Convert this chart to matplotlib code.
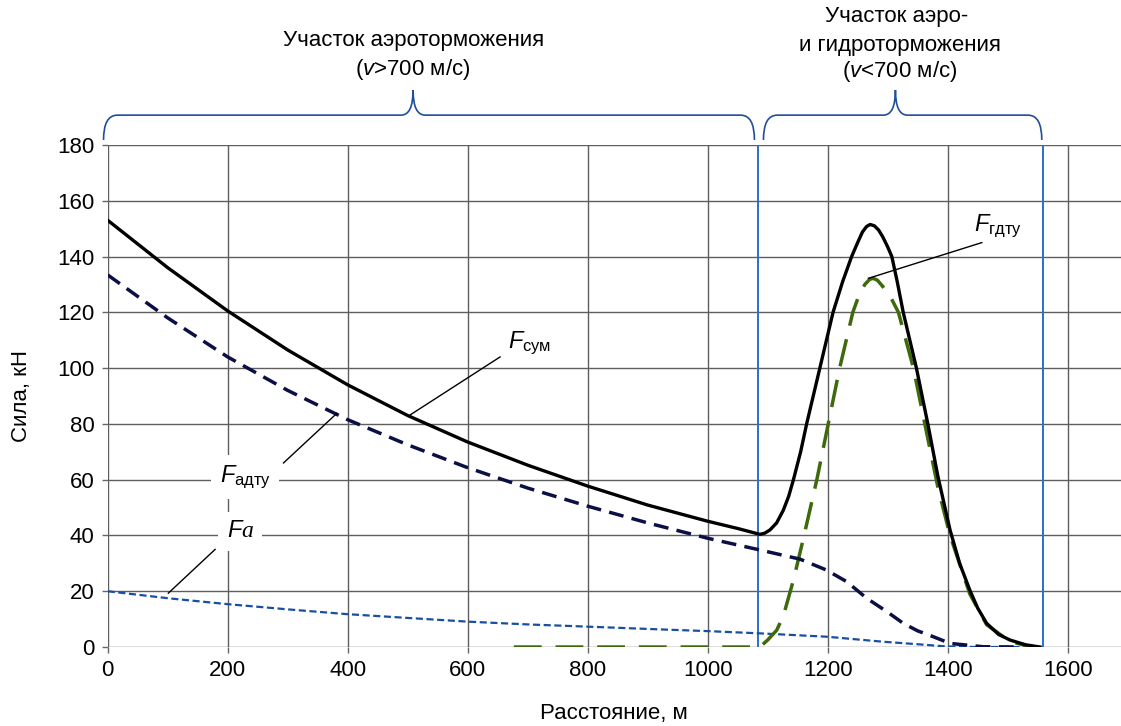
import matplotlib
matplotlib.use('Agg')
import matplotlib.pyplot as plt
from matplotlib.path import Path
from matplotlib.patches import PathPatch

plt.rcParams['font.family'] = ['Liberation Sans', 'DejaVu Sans']
plt.rcParams['mathtext.fontset'] = 'custom'
plt.rcParams['mathtext.rm'] = 'Liberation Sans'
plt.rcParams['mathtext.it'] = 'Liberation Sans:italic'
plt.rcParams['mathtext.sf'] = 'Liberation Serif:italic'

# F_сум (total force), kN vs distance, m
x_sum = [0, 100, 200, 300, 400, 500, 600, 700, 800, 900, 1000, 1050, 1087,
         1095, 1104, 1115, 1126, 1135, 1143, 1155, 1165, 1187, 1209, 1225, 1240, 1250,
         1258, 1265, 1271, 1278, 1285, 1292, 1300, 1307, 1316, 1326, 1348, 1367, 1384,
         1404, 1420, 1437, 1450, 1465, 1485, 1504, 1530, 1554]
y_sum = [153, 136, 120.5, 106.5, 94, 83, 73.5, 65.2, 57.7, 50.9, 45.1, 42.5, 40.4,
         40.8, 42, 44.5, 49, 54, 60, 70, 80, 100, 120, 131, 140, 145,
         148.8, 150.8, 151.5, 151, 149.5, 147, 143.5, 140, 131, 120, 100, 80, 61,
         42, 30, 20.4, 14, 8.5, 4.5, 2.5, 0.8, 0]

# F_адту (aero braking unit)
x_adtu = [0, 100, 200, 300, 400, 500, 600, 700, 800, 900, 1000, 1087, 1154,
          1198, 1232, 1265, 1300, 1326, 1350, 1376, 1404, 1459, 1520]
y_adtu = [133.4, 118, 104, 92, 81.5, 72.5, 64.3, 57, 50.5, 44.5, 39, 34.8, 31.5,
          27.6, 23.4, 17.5, 12.5, 8.5, 5.8, 3.7, 1.3, 0.1, 0]

# F_гдту (hydro braking unit)
x_gdtu = [677, 1087, 1100, 1115, 1126, 1143, 1159, 1182, 1201, 1220, 1242, 1252, 1262,
          1270, 1276, 1283, 1295, 1306, 1318, 1343, 1362, 1384, 1404, 1437, 1465, 1504, 1540]
y_gdtu = [0, 0, 2.5, 6, 11, 24, 38.4, 60, 80, 100, 120, 126, 130,
          131.8, 132.2, 131.5, 128.5, 125, 120, 100, 80, 57, 40, 19, 8, 2, 0]

# F_a (aerodynamic drag)
x_a = [0, 100, 198, 300, 398, 487, 600, 700, 800, 904, 1000, 1087, 1198, 1292, 1350, 1398, 1450, 1550]
y_a = [20, 17.5, 15.4, 13.5, 11.8, 10.6, 9.1, 8.1, 7.3, 6.45, 5.7, 4.9, 3.7, 1.9, 1.0, 0.2, 0, 0]

zone_bounds = [1084, 1559]

fig = plt.figure(figsize=(11.21, 7.26), dpi=100)
ax = fig.add_axes([0.0961, 0.1088, 0.9039, 0.6915])

ax.set_xlim(0, 1689)
ax.set_ylim(0, 180)
ax.set_xticks(range(0, 1601, 200))
ax.set_yticks(range(0, 181, 20))
ax.grid(True, color='#5e5e5e', lw=1.0, zorder=0)
ax.set_axisbelow(True)
for s in ax.spines.values():
    s.set_visible(False)
ax.tick_params(length=4.5, width=1.0, color='#666666', labelsize=16, pad=5)

for xb in zone_bounds:
    ax.plot([xb, xb], [0, 180], color='#2a6fc9', lw=1.4, zorder=2)

ax.plot(x_a, y_a, color='#174ea6', lw=1.6, dashes=(3.2, 1.6), zorder=3)
ax.plot(x_gdtu, y_gdtu, color='#3f6a0c', lw=2.5, dashes=(8, 4), zorder=3)
ax.plot(x_adtu, y_adtu, color='#0c0f45', lw=2.5, dashes=(4.3, 2.4), zorder=4)
ax.plot(x_sum, y_sum, color='black', lw=2.4, zorder=5, solid_joinstyle='round')

# labels with leader lines
box = dict(facecolor='white', edgecolor='none', boxstyle='square,pad=0.35')
ax.plot([504, 654], [83.2, 104], color='black', lw=1.0, zorder=6)
ax.text(704, 109, r'$\mathit{F}_{\mathrm{сум}}$', fontsize=17, ha='center', va='center', zorder=7)

ax.plot([293, 382], [66, 83.8], color='black', lw=1.0, zorder=6)
ax.text(229, 61, r'$\mathit{F}_{\mathrm{адту}}$', fontsize=17, ha='center', va='center',
        bbox=box, zorder=7)

ax.plot([1457, 1268], [145, 132.2], color='black', lw=1.0, zorder=6)
ax.text(1484, 151, r'$\mathit{F}_{\mathrm{гдту}}$', fontsize=17, ha='center', va='center', zorder=7)

ax.plot([179, 101], [35, 19.3], color='black', lw=1.0, zorder=6)
ax.text(221, 41.5, r'$\mathit{F}\mathsf{a}$', fontsize=17, ha='center', va='center',
        bbox=box, zorder=7)


def brace(x0, x1, xt, y_end, y_bar, y_tip, rx=23, rt=20):
    verts = [(x0, y_end), (x0, y_bar), (x0 + rx, y_bar),
             (xt - rt, y_bar),
             (xt, y_bar), (xt, y_tip),
             (xt, y_bar), (xt + rt, y_bar),
             (x1 - rx, y_bar),
             (x1, y_bar), (x1, y_end)]
    codes = [Path.MOVETO, Path.CURVE3, Path.CURVE3,
             Path.LINETO,
             Path.CURVE3, Path.CURVE3,
             Path.CURVE3, Path.CURVE3,
             Path.LINETO,
             Path.CURVE3, Path.CURVE3]
    p = PathPatch(Path(verts, codes), fill=False, edgecolor='#1f4e9c', lw=1.2, clip_on=False)
    ax.add_patch(p)


brace(-7, 1078, 509, 181.8, 190.7, 199.7)
brace(1093, 1557, 1313, 181.8, 190.7, 199.7)

ax.text(509, 217.6, 'Участок аэроторможения', fontsize=16, ha='center', va='center', clip_on=False)
ax.text(509, 206.9, r'($\mathit{v}$>700 м/с)', fontsize=16, ha='center', va='center', clip_on=False)
ax.text(1315, 226.1, 'Участок аэро-', fontsize=16, ha='center', va='center', clip_on=False)
ax.text(1320, 215.8, 'и гидроторможения', fontsize=16, ha='center', va='center', clip_on=False)
ax.text(1320, 206.2, r'($\mathit{v}$<700 м/с)', fontsize=16, ha='center', va='center', clip_on=False)

fig.text(614 / 1121, 1 - 714 / 726, 'Расстояние, м', fontsize=16, ha='center', va='center')
fig.text(22 / 1121, 1 - 396 / 726, 'Сила, кН', fontsize=16, ha='center', va='center', rotation=90)

fig.savefig('out.png', dpi=100)
